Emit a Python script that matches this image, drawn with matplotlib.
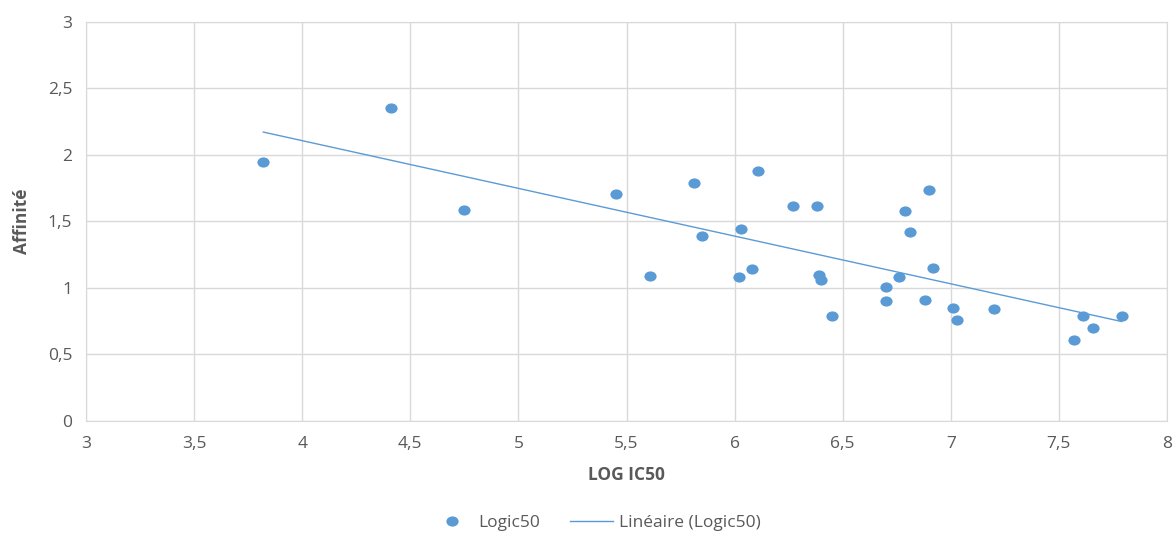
import numpy as np
import matplotlib.pyplot as plt
from matplotlib.path import Path
from matplotlib.transforms import Affine2D
from matplotlib.ticker import FuncFormatter, MultipleLocator

plt.rcParams['font.family'] = ['Open Sans', 'DejaVu Sans']

log_ic50 = [3.82, 4.41, 4.75, 5.45, 5.61, 5.81, 5.85, 6.11, 6.03, 6.02, 6.08,
            6.27, 6.38, 6.39, 6.40, 6.45, 6.70, 6.70, 6.76, 6.79, 6.81, 6.90,
            6.88, 6.92, 7.01, 7.03, 7.20, 7.57, 7.61, 7.66, 7.79]
affinite = [1.95, 2.35, 1.59, 1.71, 1.09, 1.79, 1.39, 1.88, 1.44, 1.08, 1.14,
            1.62, 1.62, 1.10, 1.06, 0.79, 1.01, 0.90, 1.08, 1.58, 1.42, 1.74,
            0.91, 1.15, 0.85, 0.76, 0.84, 0.61, 0.79, 0.70, 0.79]

blue = '#5B9BD5'
grey = '#595959'
grid = '#D9D9D9'
fs = 12.5

# slightly wide ellipse marker (the reference is stretched horizontally)
ellipse = Path.unit_circle().transformed(Affine2D().scale(1.2, 1.0))

fig = plt.figure(figsize=(11.74, 5.36), dpi=100)
ax = fig.add_axes([0.0733, 0.2146, 0.9207, 0.7444])

ax.plot(log_ic50, affinite, ls='none', marker=ellipse, color=blue, ms=8.8, mec='none',
        label='Logic50', zorder=3)

# linear trend line like Excel
slope, inter = np.polyfit(log_ic50, affinite, 1)
xs = np.array([min(log_ic50), max(log_ic50)])
ax.plot(xs, slope * xs + inter, color=blue, lw=1, label='Linéaire (Logic50)', zorder=2)

ax.set_xlim(3, 8)
ax.set_ylim(0, 3)
ax.xaxis.set_major_locator(MultipleLocator(0.5))
ax.yaxis.set_major_locator(MultipleLocator(0.5))
fmt = FuncFormatter(lambda v, p: ('%g' % v).replace('.', ','))
ax.xaxis.set_major_formatter(fmt)
ax.yaxis.set_major_formatter(fmt)
ax.grid(True, color=grid, lw=1)
ax.set_axisbelow(True)
for s in ax.spines.values():
    s.set_color(grid)
ax.tick_params(length=0, colors=grey, labelsize=fs, pad=10)
ax.tick_params(axis='x', pad=11)

ax.set_xlabel('LOG IC50', fontsize=fs, fontweight='bold', color=grey, labelpad=10)
ax.set_ylabel('Affinité', fontsize=fs, fontweight='bold', color=grey, labelpad=12)

fig.legend(loc='center', bbox_to_anchor=(0.507, 0.024), ncol=2, frameon=False,
           fontsize=fs, labelcolor=grey, columnspacing=1.7, handlelength=2.5,
           handletextpad=0.3)

fig.savefig('out.png', dpi=100)
